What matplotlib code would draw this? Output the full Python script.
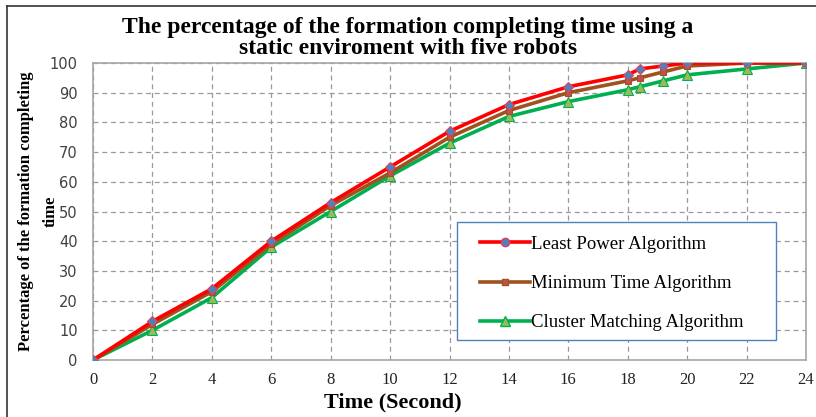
import numpy as np
import matplotlib
matplotlib.use("Agg")
import matplotlib.pyplot as plt
from matplotlib.lines import Line2D
from matplotlib.patches import Rectangle

# time points (s)
time = [0, 2, 4, 6, 8, 10, 12, 14, 16, 18, 18.4, 19.2, 20, 22, 24]
least_power = [0, 13, 24, 40, 53, 65, 77, 86, 92, 96, 98, 99, 100, 100, 100]
minimum_time = [0, 12, 23, 39, 52, 63, 75, 84, 90, 94, 95, 97, 99, 100, 100]
cluster_match = [0, 10, 21, 38, 50, 62, 73, 82, 87, 91, 92, 94, 96, 98, 100]

labels = ["Least Power Algorithm", "Minimum Time Algorithm", "Cluster Matching Algorithm"]
x_ticks = list(range(0, 25, 2))
y_ticks = list(range(0, 101, 10))

serif = "Liberation Serif"

fig = plt.figure(figsize=(8.16, 4.17), dpi=100)
ax = fig.add_axes([93/816, 1-360/417, 713/816, 297/417])

ax.plot(time, minimum_time, color="#A0521E", lw=2.6, marker="s", ms=5,
        mfc="#C0504D", mec="#A0521E", mew=0.8, zorder=3)
ax.plot(time, least_power, color="#FF0000", lw=2.6, marker="D", ms=5,
        mfc="#4F81BD", mec="#E0405A", mew=0.8, zorder=4)
ax.plot(time, cluster_match, color="#00B050", lw=2.6, marker="^", ms=7,
        mfc="#9BBB59", mec="#00B050", mew=0.8, zorder=2)

ax.set_xlim(0, 24)
ax.set_ylim(0, 100)
ax.set_xticks(x_ticks)
ax.set_yticks(y_ticks)
ax.set_xticklabels([str(t) for t in x_ticks], fontfamily=serif, fontsize=12, color="#222222")
ax.set_yticklabels([str(t) for t in y_ticks], fontfamily="DejaVu Sans", fontsize=10.5, color="#404040")
ax.tick_params(length=0, pad=9)
ax.tick_params(axis="y", pad=11)
ax.grid(True, ls=(0, (4, 3)), color="#999999", lw=0.9)
for s in ax.spines.values():
    s.set_color("#A6A6A6")
    s.set_linewidth(1.2)

ax.set_xlabel("Time (Second)", fontfamily=serif, fontweight="bold", fontsize=16)
ax.xaxis.set_label_coords(0.42, -0.11)
ax.set_ylabel("Percentage of the formation completing\ntime", fontfamily=serif,
              fontweight="bold", fontsize=12, linespacing=1.75)
ax.yaxis.set_label_coords(-0.048, 0.5)

fig.suptitle("The percentage of the formation completing time using a\nstatic enviroment with five robots",
             fontfamily=serif, fontweight="bold", fontsize=17, y=0.96, x=0.5, linespacing=1.0)

# legend box drawn separately so the entries can sit inset like the reference
box = Rectangle((0.51, 0.067), 0.448, 0.398, transform=ax.transAxes, facecolor="white",
                edgecolor="#4F81BD", lw=1.0, zorder=5)
ax.add_patch(box)
handles = [
    Line2D([], [], color="#FF0000", lw=2.6, marker="o", ms=6, mfc="#4F81BD", mec="#E0405A"),
    Line2D([], [], color="#A0521E", lw=2.6, marker="s", ms=4, mfc="#C0504D", mec="#A0521E"),
    Line2D([], [], color="#00B050", lw=2.6, marker="^", ms=7, mfc="#9BBB59", mec="#00B050"),
]
leg = ax.legend(handles, labels, loc="upper left", bbox_to_anchor=(0.543, 0.418),
                frameon=False, prop={"family": serif, "size": 13.5}, labelspacing=1.18,
                handlelength=2.65, handletextpad=0.08, borderpad=0, borderaxespad=0)
leg.set_zorder(6)

# frame lines on the left and top of the picture
fig.add_artist(Line2D([7/816, 7/816], [0, 1-6/417], color="#333333", lw=1.2))
fig.add_artist(Line2D([7/816, 1], [1-6/417, 1-6/417], color="#333333", lw=1.2))

fig.savefig("out.png", dpi=100)
